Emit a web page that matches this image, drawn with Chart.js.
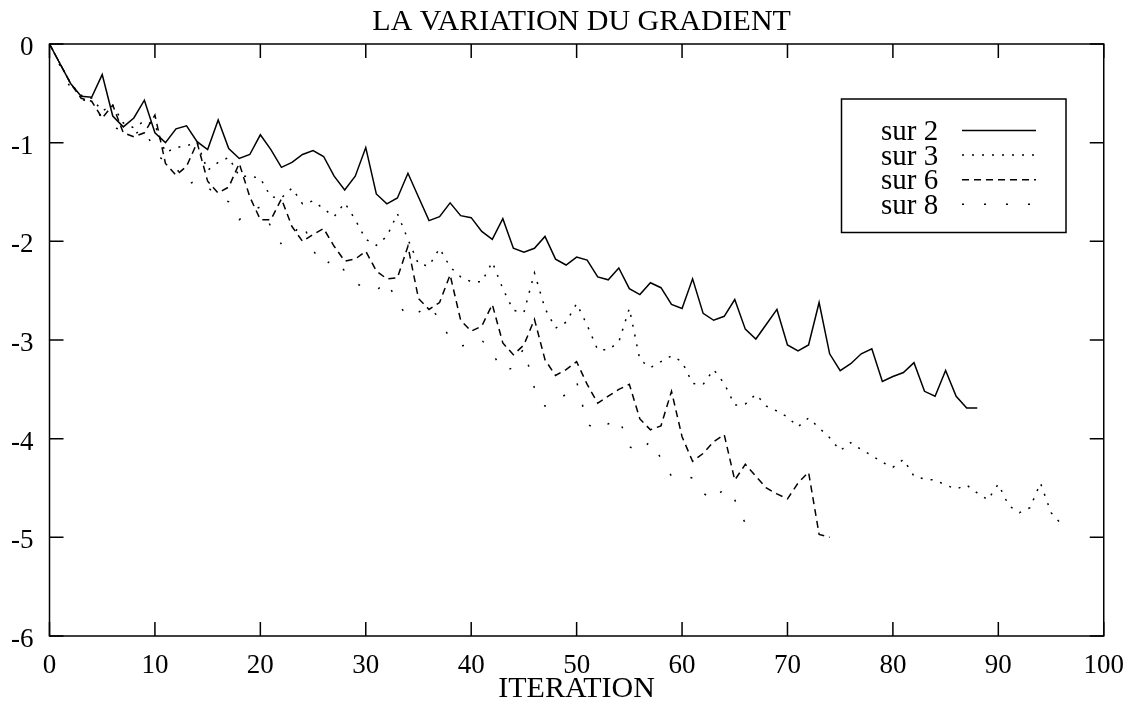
<!DOCTYPE html>
<html>
<head>
<meta charset="utf-8">
<script src="https://cdn.jsdelivr.net/npm/chart.js@4/dist/chart.umd.min.js"></script>
<style>
html,body{margin:0;padding:0;background:#fff;}
#wrap{width:1138px;height:703px;position:relative;}
</style>
</head>
<body>
<div id="wrap"><canvas id="c"></canvas></div>
<script>
// ---- data ----
const seriesLabels = ["sur 2", "sur 3", "sur 6", "sur 8"];
const xTicks = [0, 10, 20, 30, 40, 50, 60, 70, 80, 90, 100];
const yTicks = [0, -1, -2, -3, -4, -5, -6];

const sur2 = [0,-0.20,-0.40,-0.53,-0.54,-0.31,-0.73,-0.84,-0.75,-0.57,
  -0.90,-1.00,-0.86,-0.83,-0.99,-1.07,-0.77,-1.06,-1.16,-1.12,
  -0.92,-1.07,-1.25,-1.20,-1.12,-1.08,-1.14,-1.34,-1.48,-1.34,
  -1.05,-1.52,-1.62,-1.56,-1.31,-1.55,-1.79,-1.75,-1.61,-1.74,
  -1.76,-1.90,-1.98,-1.77,-2.07,-2.11,-2.07,-1.95,-2.18,-2.24,
  -2.16,-2.19,-2.36,-2.39,-2.27,-2.48,-2.54,-2.42,-2.47,-2.64,
  -2.68,-2.38,-2.73,-2.80,-2.76,-2.59,-2.89,-2.99,-2.84,-2.69,
  -3.05,-3.11,-3.05,-2.62,-3.14,-3.31,-3.24,-3.14,-3.09,-3.42,
  -3.37,-3.33,-3.23,-3.52,-3.57,-3.31,-3.57,-3.69,-3.69];

const sur3 = [0,-0.20,-0.40,-0.52,-0.55,-0.68,-0.62,-0.80,-0.85,-0.78,-0.82,
  -1.10,-1.05,-1.03,-1.00,-1.28,-1.20,-1.15,-1.34,-1.34,-1.36,
  -1.55,-1.56,-1.46,-1.62,-1.59,-1.67,-1.75,-1.61,-1.78,-1.98,
  -2.04,-1.95,-1.72,-1.98,-2.23,-2.25,-2.07,-2.26,-2.36,-2.41,
  -2.41,-2.21,-2.48,-2.70,-2.72,-2.32,-2.68,-2.88,-2.82,-2.63,
  -2.85,-3.10,-3.10,-3.02,-2.68,-3.20,-3.28,-3.22,-3.16,-3.22,
  -3.44,-3.45,-3.30,-3.44,-3.66,-3.65,-3.55,-3.67,-3.72,-3.78,
  -3.88,-3.79,-3.89,-3.99,-4.12,-4.04,-4.11,-4.17,-4.24,-4.29,
  -4.21,-4.38,-4.41,-4.42,-4.47,-4.51,-4.47,-4.55,-4.62,-4.46,
  -4.68,-4.75,-4.70,-4.45,-4.75,-4.87];

const sur6 = [0,-0.20,-0.40,-0.55,-0.58,-0.75,-0.62,-0.90,-0.94,-0.90,-0.72,
  -1.21,-1.33,-1.24,-1.00,-1.39,-1.51,-1.45,-1.21,-1.55,-1.78,
  -1.78,-1.57,-1.85,-2.00,-1.93,-1.87,-2.05,-2.20,-2.18,-2.10,
  -2.30,-2.38,-2.37,-2.05,-2.58,-2.69,-2.62,-2.34,-2.80,-2.91,
  -2.86,-2.64,-3.03,-3.15,-3.05,-2.79,-3.20,-3.36,-3.30,-3.22,
  -3.45,-3.64,-3.57,-3.50,-3.45,-3.80,-3.91,-3.87,-3.52,-3.98,
  -4.23,-4.15,-4.03,-3.96,-4.42,-4.26,-4.38,-4.50,-4.56,-4.61,
  -4.45,-4.34,-4.97,-5.00];

const sur8 = [0,-0.22,-0.45,-0.55,-0.62,-0.75,-0.84,-0.88,-0.92,-0.85,-1.10,
  -1.20,-1.25,-1.43,-1.38,-1.45,-1.55,-1.60,-1.78,-1.70,-1.65,
  -1.85,-2.03,-1.95,-1.80,-2.09,-2.25,-2.17,-2.30,-2.42,-2.48,
  -2.50,-2.40,-2.62,-2.77,-2.72,-2.65,-2.79,-2.99,-3.06,-3.05,
  -3.00,-3.13,-3.32,-3.28,-3.08,-3.49,-3.67,-3.62,-3.55,-3.42,
  -3.85,-3.92,-3.85,-3.79,-4.08,-4.14,-4.02,-4.20,-4.38,-4.37,
  -4.40,-4.55,-4.63,-4.50,-4.62,-4.86];

// ---- chart ----
const FONT = "'Liberation Serif', 'Times New Roman', serif";
const toPoints = arr => arr.map((v, i) => ({x: i, y: v}));
const dashes = [[], [2, 8], [7, 5], [2, 20]];
const allSeries = [sur2, sur3, sur6, sur8];

const datasets = allSeries.map((s, k) => ({
  label: seriesLabels[k],
  data: toPoints(s),
  borderColor: '#000',
  borderWidth: 1.5,
  borderDash: dashes[k],
  pointRadius: 0,
  tension: 0,
  fill: false
}));

const framePlugin = {
  id: 'frame',
  afterLayout(chart) {
    // centre the title over the plot frame (slightly right, as in the reference)
    const a = chart.chartArea;
    if (chart.titleBlock) {
      chart.titleBlock.left = a.left + 10;
      chart.titleBlock.right = a.right;
    }
  },
  afterDatasetsDraw(chart) {
    const {ctx, chartArea: a, scales: {x, y}} = chart;
    ctx.save();
    ctx.strokeStyle = '#000';
    ctx.lineWidth = 1.5;
    ctx.setLineDash([]);
    ctx.strokeRect(a.left, a.top, a.right - a.left, a.bottom - a.top);
    const TL = 14;
    ctx.beginPath();
    xTicks.forEach(v => {
      const px = x.getPixelForValue(v);
      ctx.moveTo(px, a.bottom); ctx.lineTo(px, a.bottom - TL);
      ctx.moveTo(px, a.top); ctx.lineTo(px, a.top + TL);
    });
    yTicks.forEach(v => {
      const py = y.getPixelForValue(v);
      ctx.moveTo(a.left, py); ctx.lineTo(a.left + TL, py);
      ctx.moveTo(a.right, py); ctx.lineTo(a.right - TL, py);
    });
    ctx.stroke();

    // legend box
    const bx = 841.5, by = 99, bw = 224.5, bh = 133.5;
    ctx.fillStyle = '#fff';
    ctx.fillRect(bx, by, bw, bh);
    ctx.strokeRect(bx, by, bw, bh);
    ctx.font = "29px " + FONT;
    ctx.textBaseline = 'middle';
    ctx.textAlign = 'left';
    ctx.fillStyle = '#000';
    chart.data.datasets.forEach((ds, k) => {
      const ly = 130.5 + k * 24.6;
      ctx.fillText(ds.label, 881, ly + 2);
      ctx.beginPath();
      ctx.setLineDash(ds.borderDash);
      ctx.lineWidth = ds.borderWidth;
      ctx.moveTo(962, ly); ctx.lineTo(1036, ly);
      ctx.stroke();
    });
    ctx.restore();
  }
};

new Chart(document.getElementById('c'), {
  type: 'line',
  data: { datasets },
  options: {
    responsive: true,
    maintainAspectRatio: false,
    animation: false,
    devicePixelRatio: 1,
    layout: { padding: { left: 0, right: 32, top: 0, bottom: 0 } },
    plugins: {
      legend: { display: false },
      tooltip: { enabled: false },
      title: {
        display: true,
        text: 'LA VARIATION DU GRADIENT',
        color: '#000',
        font: { family: FONT, size: 30, weight: 'normal', lineHeight: 1.2 },
        padding: { top: 4, bottom: 4 }
      }
    },
    scales: {
      x: {
        type: 'linear',
        min: 0, max: 100,
        afterBuildTicks: s => { s.ticks = xTicks.map(v => ({value: v})); },
        afterFit: s => { s.height = 67; },
        grid: { display: false, drawTicks: false },
        border: { display: false },
        ticks: {
          color: '#000', padding: 14, maxRotation: 0,
          font: { family: FONT, size: 27 },
          callback: v => String(v)
        },
        title: {
          display: true, text: 'ITERATION', color: '#000',
          font: { family: FONT, size: 30, lineHeight: 0.9 },
          padding: 0
        }
      },
      y: {
        type: 'linear',
        min: -6, max: 0,
        afterBuildTicks: s => { s.ticks = yTicks.map(v => ({value: v})); },
        afterFit: s => { s.width = 49.5; },
        grid: { display: false, drawTicks: false },
        border: { display: false },
        ticks: {
          color: '#000', padding: 16, labelOffset: 4,
          font: { family: FONT, size: 27 },
          callback: v => String(v)
        }
      }
    }
  },
  plugins: [framePlugin]
});
</script>
</body>
</html>
